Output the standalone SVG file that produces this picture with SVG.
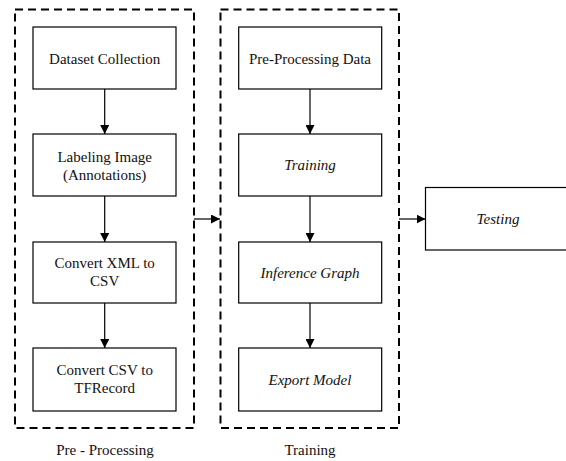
<svg xmlns="http://www.w3.org/2000/svg" width="566" height="461" viewBox="0 0 566 461">
<style>
.grp{fill:none;stroke:#000;stroke-width:2;stroke-dasharray:8 5}
.box{fill:#fff;stroke:#000;stroke-width:1.2}
.t{font-family:"Liberation Serif","Times New Roman",serif;font-size:15px;fill:#111;text-anchor:middle}
.i{font-style:italic}
.c{stroke:#000;stroke-width:1.2;fill:none;marker-end:url(#ah)}
</style>
<defs>
<marker id="ah" markerWidth="9" markerHeight="9" refX="9" refY="4.5" orient="auto" markerUnits="userSpaceOnUse">
<path d="M0,0 L9,4.5 L0,9 Z" fill="#000"/>
</marker>
</defs>
<rect width="566" height="461" fill="#fff"/>
<g id="group-preprocessing">
<rect class="grp" x="15" y="9.5" width="179" height="418.5"/>
<text class="t" x="105" y="455">Pre - Processing</text>
</g>
<g id="group-training">
<rect class="grp" x="220.5" y="9.5" width="178.5" height="418.5"/>
<text class="t" x="310" y="455">Training</text>
</g>
<g id="connectors">
<line class="c" x1="104.7" y1="89" x2="104.7" y2="134"/>
<line class="c" x1="104.7" y1="196" x2="104.7" y2="242"/>
<line class="c" x1="104.7" y1="303" x2="104.7" y2="348"/>
<line class="c" x1="310" y1="89" x2="310" y2="134"/>
<line class="c" x1="310" y1="196" x2="310" y2="242"/>
<line class="c" x1="310" y1="303" x2="310" y2="348"/>
<line class="c" x1="194" y1="219" x2="220" y2="219"/>
<line class="c" x1="399" y1="219" x2="425.5" y2="219"/>
</g>
<g id="dataset-collection">
<rect class="box" x="33" y="27" width="143" height="62"/>
<text class="t" x="104.7" y="63.5">Dataset Collection</text>
</g>
<g id="labeling-image">
<rect class="box" x="33" y="134" width="143" height="62"/>
<text class="t" x="104.7" y="161.5">Labeling Image</text>
<text class="t" x="104.7" y="179.5">(Annotations)</text>
</g>
<g id="convert-xml">
<rect class="box" x="33" y="242" width="143" height="61"/>
<text class="t" x="104.7" y="268">Convert XML to</text>
<text class="t" x="104.7" y="286">CSV</text>
</g>
<g id="convert-csv">
<rect class="box" x="33" y="348" width="143" height="63"/>
<text class="t" x="104.7" y="375">Convert CSV to</text>
<text class="t" x="104.7" y="393">TFRecord</text>
</g>
<g id="pre-processing-data">
<rect class="box" x="238.7" y="27" width="143" height="62"/>
<text class="t" x="310" y="63.5">Pre-Processing Data</text>
</g>
<g id="training">
<rect class="box" x="238.7" y="134" width="143" height="62"/>
<text class="t i" x="310" y="170">Training</text>
</g>
<g id="inference-graph">
<rect class="box" x="238.7" y="242" width="143" height="61"/>
<text class="t i" x="310" y="277.5">Inference Graph</text>
</g>
<g id="export-model">
<rect class="box" x="238.7" y="348" width="143" height="63"/>
<text class="t i" x="310" y="384.5">Export Model</text>
</g>
<g id="testing">
<rect class="box" x="425.5" y="187.5" width="144" height="62.5"/>
<text class="t i" x="498" y="223.5">Testing</text>
</g>
</svg>
